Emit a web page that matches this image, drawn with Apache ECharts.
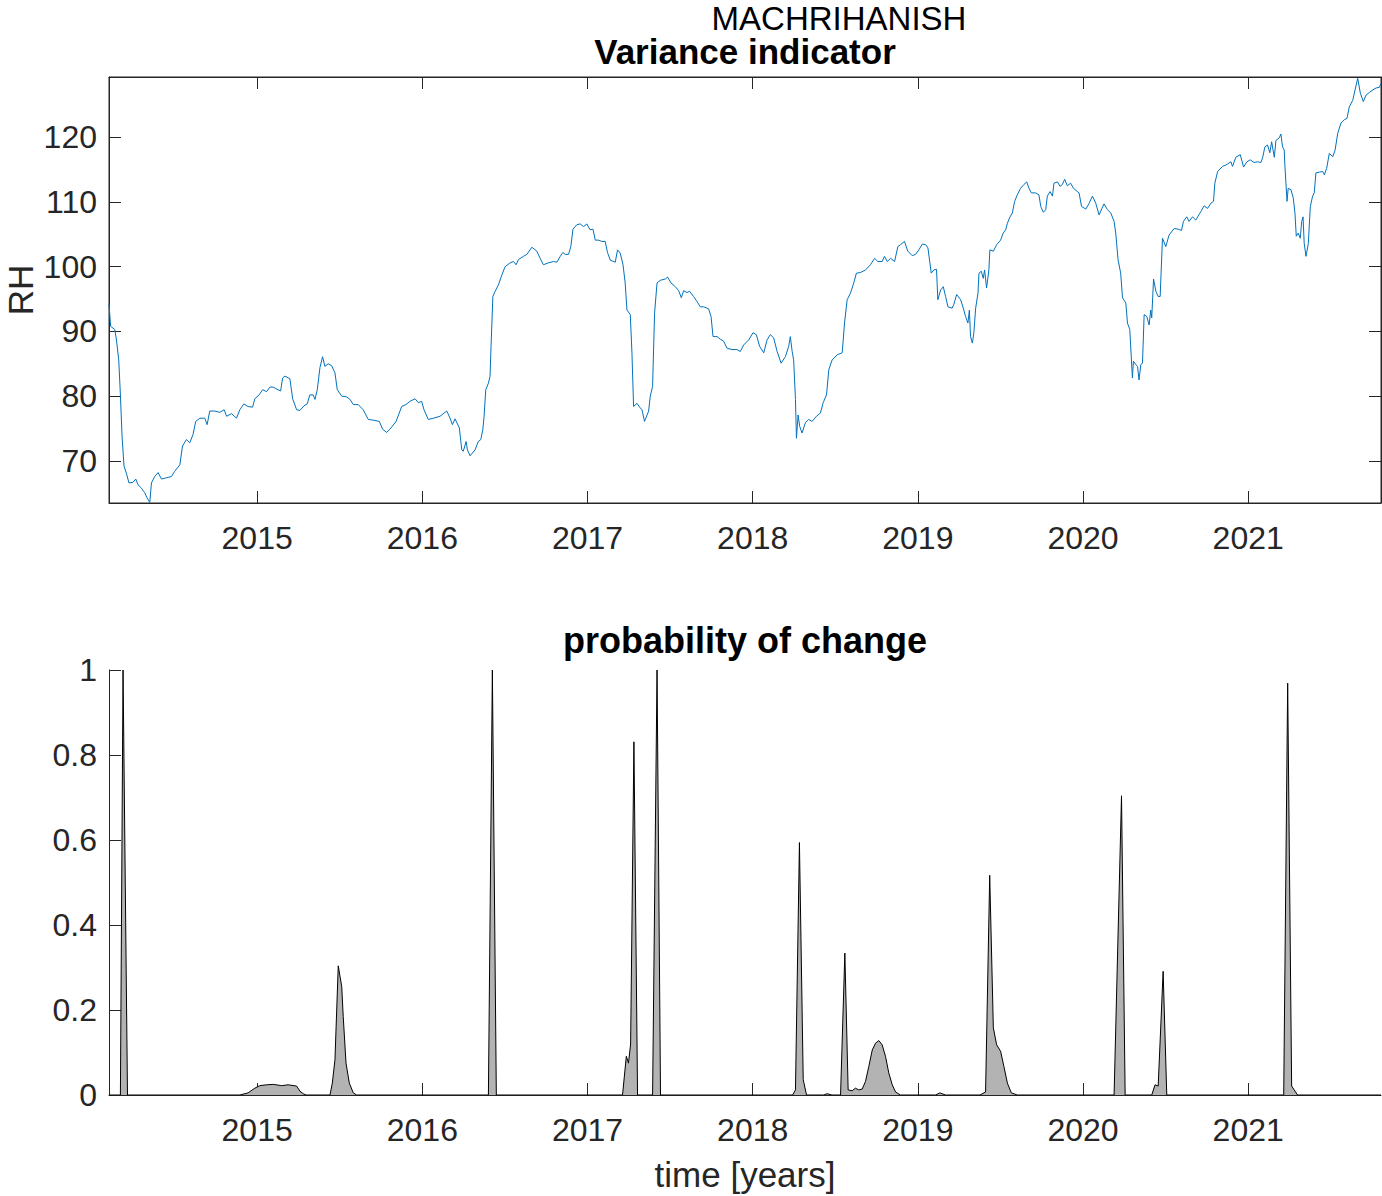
<!DOCTYPE html>
<html>
<head>
<meta charset="utf-8">
<title>MACHRIHANISH</title>
<script src="https://cdn.jsdelivr.net/npm/echarts@6/dist/echarts.min.js"></script>
<style>
  html, body { margin: 0; padding: 0; background: #fff; }
  #chart { width: 1382px; height: 1196px; }
</style>
</head>
<body>
<div id="chart"></div>
<script>
// ---- data (decimal years) ----
const yearTicks = [2015, 2016, 2017, 2018, 2019, 2020, 2021];
const rhTicks = [70, 80, 90, 100, 110, 120];

const topYears = [
 2014.103,2014.113,2014.138,2014.148,2014.162,2014.172,2014.182,2014.194,2014.208,2014.224,
 2014.248,2014.265,2014.279,2014.299,2014.319,2014.333,2014.350,2014.360,2014.380,2014.400,
 2014.421,2014.451,2014.481,2014.501,2014.532,2014.548,2014.572,2014.592,2014.612,2014.628,
 2014.653,2014.683,2014.697,2014.713,2014.744,2014.774,2014.800,2014.815,2014.845,2014.875,
 2014.895,2014.919,2014.945,2014.972,2014.986,2015.012,2015.033,2015.057,2015.077,2015.097,
 2015.118,2015.142,2015.154,2015.168,2015.198,2015.215,2015.239,2015.259,2015.283,2015.303,
 2015.319,2015.339,2015.350,2015.364,2015.380,2015.396,2015.410,2015.430,2015.451,2015.471,
 2015.485,2015.512,2015.542,2015.562,2015.582,2015.612,2015.642,2015.673,2015.703,2015.739,
 2015.760,2015.784,2015.804,2015.841,2015.875,2015.901,2015.925,2015.956,2015.976,2015.996,
 2016.010,2016.036,2016.067,2016.107,2016.148,2016.168,2016.182,2016.198,2016.224,2016.239,
 2016.248,2016.265,2016.273,2016.289,2016.319,2016.339,2016.354,2016.366,2016.374,2016.384,
 2016.400,2016.410,2016.416,2016.427,2016.441,2016.461,2016.481,2016.501,2016.532,2016.552,
 2016.568,2016.582,2016.612,2016.633,2016.663,2016.693,2016.713,2016.733,2016.764,2016.794,
 2016.815,2016.835,2016.851,2016.865,2016.885,2016.899,2016.912,2016.936,2016.956,2016.976,
 2016.996,2017.016,2017.033,2017.047,2017.067,2017.087,2017.107,2017.121,2017.138,2017.168,
 2017.182,2017.198,2017.215,2017.228,2017.239,2017.259,2017.269,2017.279,2017.299,2017.319,
 2017.330,2017.345,2017.370,2017.380,2017.394,2017.406,2017.421,2017.441,2017.471,2017.485,
 2017.505,2017.532,2017.552,2017.568,2017.582,2017.602,2017.618,2017.642,2017.663,2017.683,
 2017.703,2017.733,2017.748,2017.760,2017.784,2017.804,2017.824,2017.845,2017.875,2017.905,
 2017.925,2017.945,2017.976,2018.002,2018.022,2018.042,2018.067,2018.087,2018.107,2018.127,
 2018.148,2018.172,2018.198,2018.218,2018.228,2018.239,2018.248,2018.259,2018.265,2018.275,
 2018.285,2018.299,2018.319,2018.339,2018.360,2018.386,2018.410,2018.427,2018.447,2018.461,
 2018.481,2018.512,2018.542,2018.556,2018.572,2018.592,2018.612,2018.628,2018.653,2018.683,
 2018.713,2018.738,2018.758,2018.784,2018.798,2018.815,2018.835,2018.859,2018.879,2018.895,
 2018.919,2018.939,2018.966,2018.986,2019.006,2019.027,2019.047,2019.061,2019.073,2019.081,
 2019.097,2019.113,2019.121,2019.138,2019.154,2019.168,2019.182,2019.208,2019.218,2019.235,
 2019.259,2019.275,2019.289,2019.303,2019.312,2019.319,2019.330,2019.339,2019.350,2019.364,
 2019.370,2019.384,2019.396,2019.404,2019.416,2019.430,2019.436,2019.457,2019.477,2019.501,
 2019.517,2019.532,2019.542,2019.558,2019.572,2019.586,2019.602,2019.622,2019.642,2019.659,
 2019.673,2019.687,2019.713,2019.733,2019.744,2019.760,2019.774,2019.784,2019.800,2019.815,
 2019.824,2019.845,2019.861,2019.875,2019.889,2019.905,2019.925,2019.942,2019.966,2019.976,
 2019.991,2020.017,2020.037,2020.057,2020.077,2020.097,2020.127,2020.148,2020.168,2020.188,
 2020.198,2020.212,2020.228,2020.239,2020.259,2020.269,2020.283,2020.293,2020.299,2020.305,
 2020.319,2020.330,2020.339,2020.350,2020.360,2020.370,2020.386,2020.400,2020.410,2020.416,
 2020.427,2020.441,2020.455,2020.467,2020.481,2020.501,2020.521,2020.552,2020.576,2020.596,
 2020.608,2020.628,2020.642,2020.663,2020.683,2020.713,2020.733,2020.754,2020.774,2020.790,
 2020.798,2020.815,2020.845,2020.865,2020.895,2020.905,2020.925,2020.952,2020.972,2020.992,
 2021.012,2021.036,2021.057,2021.077,2021.087,2021.101,2021.117,2021.131,2021.142,2021.158,
 2021.168,2021.188,2021.198,2021.208,2021.218,2021.222,2021.235,2021.242,2021.259,2021.273,
 2021.283,2021.291,2021.303,2021.315,2021.324,2021.332,2021.339,2021.350,2021.364,2021.376,
 2021.390,2021.400,2021.410,2021.430,2021.451,2021.461,2021.475,2021.491,2021.512,2021.526,
 2021.542,2021.562,2021.582,2021.598,2021.612,2021.633,2021.647,2021.663,2021.679,2021.697,
 2021.713,2021.733,2021.754,2021.774,2021.794,2021.804
];
const topRH = [
 94.2,90.8,90.3,88.7,85.6,80.2,73.8,69.2,68.1,66.6,
 66.7,67.2,66.3,65.8,65.1,64.3,63.6,66.6,67.6,68.2,
 67.2,67.4,67.6,68.4,69.4,72.3,73.3,72.8,74.1,76.1,
 76.6,76.6,75.6,77.7,77.7,77.5,77.9,76.9,77.3,76.6,
 77.9,78.8,78.4,78.3,79.6,80.2,81.0,80.7,81.4,81.4,
 81.1,80.8,82.8,83.1,82.7,79.6,77.9,77.8,78.5,78.8,
 80.2,80.2,79.5,81.0,84.4,86.1,84.6,85.0,84.7,83.6,
 81.0,80.0,79.9,79.5,78.7,78.7,77.9,76.4,76.3,76.1,
 74.9,74.4,74.9,76.1,78.4,78.7,79.2,79.6,79.0,79.2,
 77.9,76.4,76.6,76.9,77.7,76.6,75.6,76.5,75.1,71.7,
 71.5,73.0,71.7,70.8,71.7,73.0,73.3,74.8,76.9,81.0,
 82.0,83.1,87.7,95.4,96.2,97.2,98.7,100.0,100.6,100.8,
 100.3,101.1,101.6,101.9,103.0,102.4,101.3,100.3,100.6,100.8,
 100.7,101.6,102.2,101.9,101.9,103.1,105.8,106.5,106.6,106.2,
 106.6,105.7,105.8,104.1,104.1,103.9,103.9,102.2,101.0,100.7,
 102.6,102.1,100.3,97.5,93.3,92.6,86.7,78.4,78.9,78.2,
 77.9,76.1,77.7,80.0,81.5,92.8,97.5,97.9,98.1,98.4,
 97.5,96.9,96.3,95.2,96.3,96.0,96.2,95.4,94.6,93.8,
 93.8,93.5,92.3,89.2,89.2,88.8,88.5,87.4,87.2,87.2,
 86.9,87.9,88.7,89.8,89.5,87.7,86.7,88.7,89.5,89.0,
 86.9,85.1,86.1,87.7,89.2,86.9,85.6,79.5,73.5,77.1,
 75.3,74.3,75.9,76.4,76.1,76.9,77.4,79.0,80.2,84.1,
 85.6,86.4,86.7,91.3,94.9,95.9,97.5,99.0,99.1,99.5,
 100.3,101.3,100.8,100.8,101.6,100.8,101.3,100.8,103.1,103.4,
 103.9,102.4,101.7,101.9,102.6,103.5,103.4,102.9,100.6,99.0,
 99.5,99.6,94.9,96.4,96.9,95.4,93.8,93.6,94.2,95.7,
 94.9,93.6,92.3,91.3,93.3,89.2,88.2,89.8,93.6,95.9,
 99.0,99.3,98.2,99.5,96.7,99.5,102.6,102.4,103.4,104.1,
 105.2,105.7,106.7,107.7,108.3,110.1,111.1,112.1,112.7,113.1,
 112.1,111.4,111.4,111.1,109.3,108.4,108.8,110.9,111.6,110.9,
 112.9,113.1,112.4,112.7,113.5,112.5,112.9,112.1,111.6,111.4,
 109.3,108.9,109.8,110.9,109.8,108.0,109.7,108.8,108.3,107.0,
 105.2,101.1,99.0,95.2,94.4,91.3,90.3,85.6,82.8,85.4,
 84.9,84.6,82.5,84.9,85.1,92.6,92.3,91.0,93.3,92.1,
 98.1,96.2,95.4,95.4,104.4,103.1,104.9,105.9,105.8,105.6,
 107.0,107.7,107.0,107.7,107.2,108.5,109.4,109.0,109.8,110.1,
 112.9,114.7,115.5,115.7,116.2,115.5,116.9,117.3,115.4,116.2,
 116.5,116.1,116.2,116.1,116.8,118.5,118.8,117.6,119.3,116.9,
 119.5,119.9,120.5,118.5,118.0,115.7,110.1,112.1,111.9,110.6,
 108.3,104.7,105.2,104.4,107.0,107.7,103.6,101.6,103.6,109.3,
 110.9,111.4,114.5,114.6,114.7,114.2,115.2,117.5,117.0,118.0,
 120.6,122.2,122.7,122.9,124.7,125.7,127.3,129.1,126.8,125.5,
 126.5,126.9,127.3,127.6,127.7,128.3
];

const probYears = [
 2014.103,2014.172,2014.188,2014.215,
 2014.895,2014.945,2014.986,2015.016,2015.057,2015.097,2015.148,2015.188,2015.239,2015.259,2015.283,2015.299,
 2015.441,2015.455,2015.471,2015.491,2015.512,2015.521,2015.538,2015.558,2015.582,2015.602,
 2016.400,2016.424,2016.448,
 2017.212,2017.235,2017.248,2017.261,2017.281,2017.303,
 2017.394,2017.421,2017.442,
 2018.242,2018.259,2018.283,2018.306,2018.326,
 2018.430,2018.450,2018.480,
 2018.532,2018.558,2018.578,2018.602,2018.622,2018.642,2018.663,2018.683,2018.703,2018.724,
 2018.744,2018.764,2018.784,2018.804,2018.824,2018.845,2018.865,2018.895,
 2019.107,2019.133,2019.168,
 2019.376,2019.410,2019.435,2019.457,2019.477,2019.501,2019.521,2019.542,2019.566,2019.602,
 2020.188,2020.233,2020.255,
 2020.416,2020.436,2020.455,2020.485,2020.507,
 2021.215,2021.239,2021.263,2021.299,
 2021.804
];
const probValues = [
 0,0,1.0,0,
 0,0.005,0.016,0.022,0.024,0.025,0.022,0.024,0.021,0.009,0.002,0,
 0,0.028,0.083,0.304,0.255,0.185,0.075,0.028,0.005,0,
 0,1.0,0,
 0,0.091,0.075,0.12,0.831,0,
 0,1.0,0,
 0,0.012,0.594,0.036,0,
 0,0.003,0,
 0,0.334,0.012,0.010,0.016,0.012,0.014,0.032,0.067,0.106,
 0.122,0.128,0.118,0.091,0.052,0.024,0.007,0,
 0,0.005,0,
 0,0.007,0.517,0.158,0.118,0.103,0.067,0.028,0.005,0,
 0,0.704,0,
 0,0.024,0.021,0.291,0,
 0,0.969,0.021,0,
 0
];

const xMin = 2014.103, xMax = 2021.804;
const rhMin = 63.5, rhMax = 129.3;

// ---- chart ----
const FONT = '"Liberation Sans", Arial, Helvetica, sans-serif';
const AX = '#262626';
const chart = echarts.init(document.getElementById('chart'), null, { renderer: 'svg' });

function xAxisBase(grid, position, showLabels) {
  return {
    type: 'value', gridIndex: grid, position: position,
    min: xMin, max: xMax,
    axisLine: { show: true, onZero: false, lineStyle: { color: AX, width: 1 } },
    axisTick: { show: true, inside: true, length: 12, customValues: yearTicks, lineStyle: { color: AX, width: 1 } },
    axisLabel: {
      show: showLabels, customValues: yearTicks, margin: 19,
      color: AX, fontSize: 32, fontFamily: FONT,
      formatter: v => String(Math.round(v))
    },
    splitLine: { show: false }
  };
}

const topPoints = topYears.map((t, i) => [t, topRH[i]]);
const probPoints = probYears.map((t, i) => [t, probValues[i]]);

const option = {
  backgroundColor: '#ffffff',
  animation: false,
  grid: [
    { left: 109, top: 77, right: 1, height: 426, show: true, borderColor: AX, borderWidth: 1, containLabel: false, outerBoundsMode: 'none' },
    { left: 109, top: 670, right: 1, height: 425, show: false, containLabel: false, outerBoundsMode: 'none' }
  ],
  graphic: [
    { type: 'text', x: 839, y: 18, style: { text: 'MACHRIHANISH', fontSize: 33, fontFamily: FONT, fill: '#000', align: 'center', verticalAlign: 'middle' } },
    { type: 'text', x: 745, y: 51, style: { text: 'Variance indicator', fontSize: 35, fontWeight: 'bold', fontFamily: FONT, fill: '#000', align: 'center', verticalAlign: 'middle' } },
    { type: 'text', x: 745, y: 640, style: { text: 'probability of change', fontSize: 36, fontWeight: 'bold', fontFamily: FONT, fill: '#000', align: 'center', verticalAlign: 'middle' } },
    { type: 'text', x: 20, y: 290, rotation: Math.PI / 2, style: { text: 'RH', fontSize: 35, fontFamily: FONT, fill: AX, align: 'center', verticalAlign: 'middle' } }
  ],
  xAxis: [
    xAxisBase(0, 'bottom', true),
    xAxisBase(0, 'top', false),
    Object.assign(xAxisBase(1, 'bottom', true), {
      name: 'time [years]', nameLocation: 'middle', nameGap: 62,
      nameTextStyle: { color: AX, fontSize: 35, fontFamily: FONT }
    })
  ],
  yAxis: [
    {
      type: 'value', gridIndex: 0, position: 'left', min: rhMin, max: rhMax,
      axisLine: { show: true, lineStyle: { color: AX, width: 1 } },
      axisTick: { show: true, inside: true, length: 12, customValues: rhTicks, lineStyle: { color: AX, width: 1 } },
      axisLabel: { customValues: rhTicks, margin: 12, color: AX, fontSize: 32, fontFamily: FONT },
      splitLine: { show: false }
    },
    {
      type: 'value', gridIndex: 0, position: 'right', min: rhMin, max: rhMax,
      axisLine: { show: true, lineStyle: { color: AX, width: 1 } },
      axisTick: { show: true, inside: true, length: 12, customValues: rhTicks, lineStyle: { color: AX, width: 1 } },
      axisLabel: { show: false },
      splitLine: { show: false }
    },
    {
      type: 'value', gridIndex: 1, position: 'left', min: 0, max: 1, interval: 0.2,
      axisLine: { show: true, lineStyle: { color: AX, width: 1 } },
      axisTick: { show: true, inside: true, length: 12, lineStyle: { color: AX, width: 1 } },
      axisLabel: { margin: 12, color: AX, fontSize: 32, fontFamily: FONT },
      splitLine: { show: false }
    }
  ],
  series: [
    {
      type: 'line', xAxisIndex: 0, yAxisIndex: 0, data: topPoints,
      showSymbol: false, symbol: 'none', clip: true,
      lineStyle: { color: '#0072BD', width: 1 }
    },
    {
      type: 'line', xAxisIndex: 2, yAxisIndex: 2, data: probPoints,
      showSymbol: false, symbol: 'none', clip: true,
      lineStyle: { color: '#000000', width: 1 },
      areaStyle: { color: '#B3B3B3', opacity: 1, origin: 'start' }
    }
  ]
};
chart.setOption(option);
</script>
</body>
</html>
